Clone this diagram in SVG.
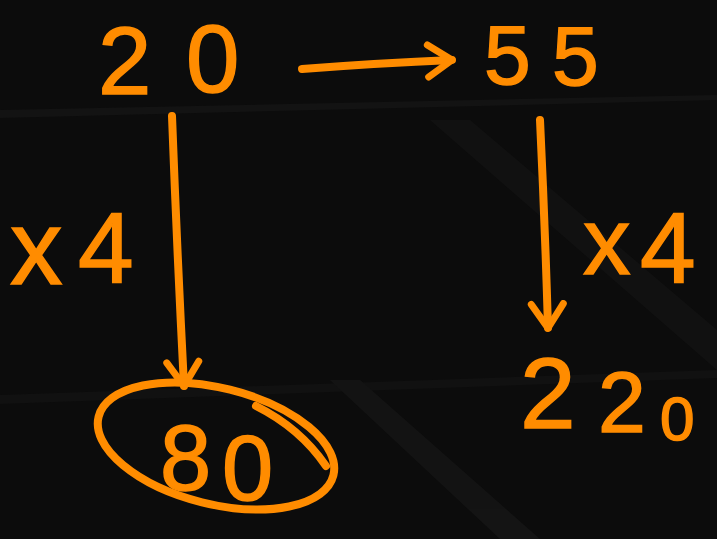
<svg xmlns="http://www.w3.org/2000/svg" width="717" height="539" viewBox="0 0 717 539">
<style>
.hand{fill:#FF8C00;stroke:#FF8C00;stroke-width:1.5;font-family:"Liberation Sans","DejaVu Sans",sans-serif;}
.ln{fill:none;stroke:#FF8C00;stroke-width:8;stroke-linecap:round;stroke-linejoin:round;}
</style>
<defs>
<marker id="ah" viewBox="0 0 20 20" refX="14" refY="10" markerWidth="5" markerHeight="5" orient="auto" markerUnits="strokeWidth">
<polyline points="2,2 14,10 2,18" fill="none" stroke="#FF8C00" stroke-width="3.5" stroke-linecap="round" stroke-linejoin="round"/>
</marker>
</defs>
<rect width="717" height="539" fill="#0c0c0c"/>
<g opacity="0.5">
<polygon points="0,110 717,95 717,100 0,118" fill="#1a1a1a"/>
<polygon points="430,120 470,120 717,330 717,370" fill="#171717"/>
<polygon points="0,395 717,370 717,378 0,404" fill="#161616"/>
<polygon points="330,380 360,380 540,539 500,539" fill="#1b1b1b"/>
</g>
<g id="connectors">
<path class="ln" d="M302,69 Q380,63 452,60" marker-end="url(#ah)"/>
<path class="ln" d="M172,116 Q177,250 184,386" marker-end="url(#ah)"/>
<path class="ln" d="M540,120 Q545,225 548,328" marker-end="url(#ah)"/>
<text class="hand" font-size="105" x="10" y="284">x<tspan x="78" y="283" font-size="100">4</tspan></text>
<text class="hand" font-size="95" x="583" y="274">x<tspan x="640" y="283" font-size="100">4</tspan></text>
</g>
<g id="n20">
<text class="hand" font-size="96" x="98 186" y="94 92">20</text>
</g>
<g id="n55">
<text class="hand" font-size="84" x="484 552" y="84 85">55</text>
</g>
<g id="n80">
<ellipse class="ln" cx="216" cy="446" rx="121" ry="58" transform="rotate(14 216 446)"/>
<path class="ln" d="M256,406 Q300,428 326,466"/>
<text class="hand" font-size="92" x="160 222" y="490 500">80</text>
</g>
<g id="n220">
<text class="hand" x="520" y="428" font-size="100">2<tspan x="598" y="432" font-size="86">2</tspan><tspan x="660" y="440" font-size="62">0</tspan></text>
</g>
</svg>
